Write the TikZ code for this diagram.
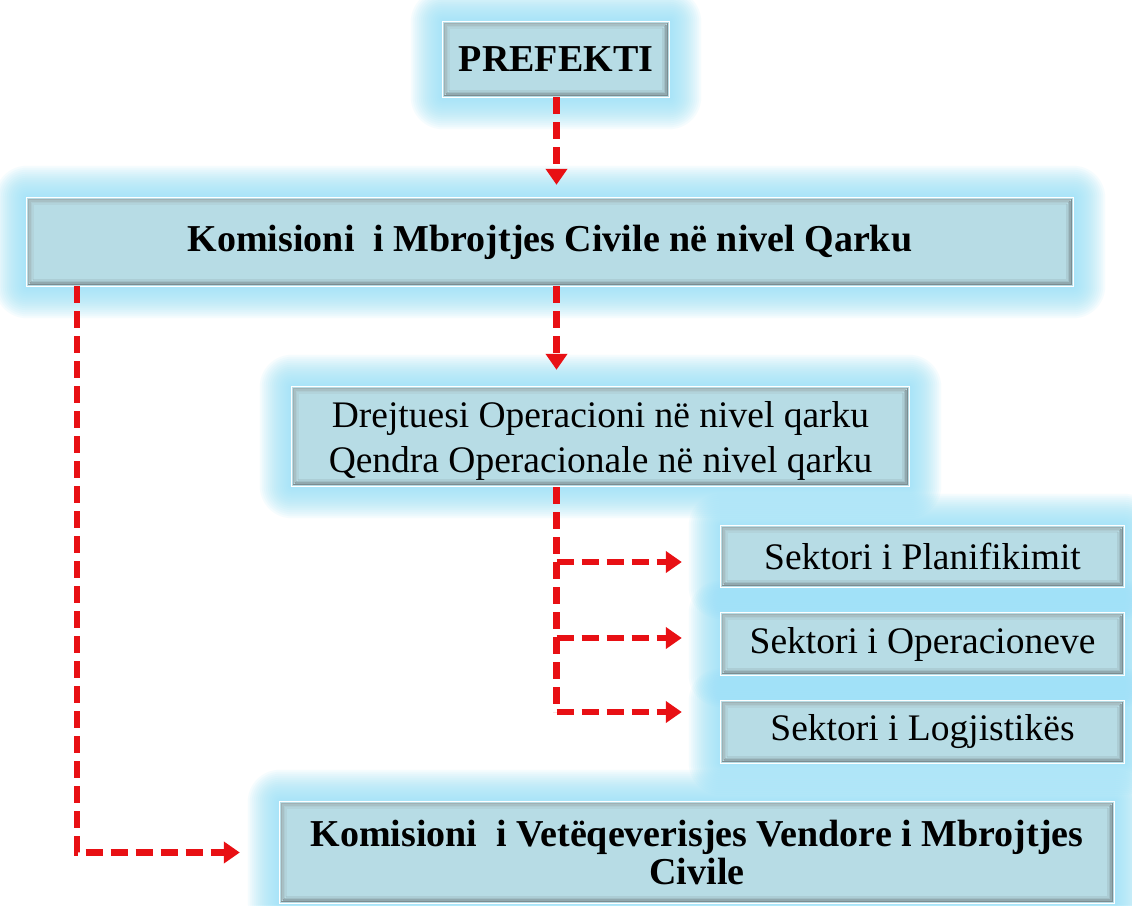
\documentclass[tikz,border=0pt]{standalone}
\usepackage{fontspec}
\setmainfont{Liberation Serif}
\usetikzlibrary{arrows.meta,calc}
\definecolor{glowc}{RGB}{150,225,248}
\definecolor{boxfill}{RGB}{183,220,229}
\definecolor{arrred}{RGB}{232,16,20}
\newcommand{\glowbox}[1]{%
  \foreach \d in {32,30,...,2}{%
    \fill[glowc,opacity=0.085,rounded corners=\d pt]
      ($(#1.south west)+(-\d,\d)$) rectangle ($(#1.north east)+(\d,-\d)$);
  }%
}
\newcommand{\shadebox}[1]{%
  \foreach \d/\o in {1.5/0.55,3/0.35,4.5/0.2,6/0.1}{%
    \draw[black!70,opacity=\o,line width=1.5pt]
      ($(#1.south west)+(\d,-\d)$) -- ($(#1.south east)+(-\d,-\d)$) -- ($(#1.north east)+(-\d,\d)$);
    \draw[black!45,opacity=\o,line width=1.5pt]
      ($(#1.south west)+(\d,-\d)$) -- ($(#1.north west)+(\d,\d)$) -- ($(#1.north east)+(-\d,\d)$);
  }%
  \draw[white,line width=1pt] (#1.south west) rectangle (#1.north east);
}
\tikzset{
  box/.style={fill=boxfill,inner sep=0pt,align=center,font=\fontsize{37.5}{45}\selectfont},
  boldbox/.style={box,font=\fontsize{38}{38}\selectfont\bfseries},
  arr/.style={draw=arrred,line width=6.5pt,dash pattern=on 17pt off 8pt,
    -{Triangle[length=16pt,width=21pt]}},
  lineonly/.style={draw=arrred,line width=6.5pt,dash pattern=on 17pt off 8pt}
}
\begin{document}
\begin{tikzpicture}[x=1pt,y=-1pt]
\useasboundingbox (0,0) rectangle (1132,905);
\fill[white] (0,0) rectangle (1132,905);
\path
 (556,59.5) node[boldbox,minimum width=226pt,minimum height=75pt] (pref) {}
 (550,242) node[boldbox,minimum width=1046pt,minimum height=88pt] (kom) {}
 (600.5,436.5) node[box,minimum width=617pt,minimum height=99pt] (drejt) {}
 (922.5,556.5) node[box,minimum width=403pt,minimum height=61pt] (s1) {}
 (922.5,644) node[box,minimum width=403pt,minimum height=62pt] (s2) {}
 (922.5,732) node[box,minimum width=403pt,minimum height=62pt] (s3) {}
 (697,852.5) node[boldbox,minimum width=834pt,minimum height=101pt] (vet) {};
\glowbox{pref}\glowbox{kom}\glowbox{drejt}\glowbox{s1}\glowbox{s2}\glowbox{s3}\glowbox{vet}
\node[boldbox,minimum width=226pt,minimum height=75pt] (prefT) at (pref) {PREFEKTI};
\node[boldbox,minimum width=1046pt,minimum height=88pt] (komT) at (kom) {Komisioni\ \ i Mbrojtjes Civile në nivel Qarku};
\node[box,minimum width=617pt,minimum height=99pt] (drejtT) at (drejt) {};
\node[font=\fontsize{37.5}{45}\selectfont,align=center,inner sep=0pt] (drejtL) at ($(drejt)+(0,4)$) {Drejtuesi Operacioni në nivel qarku\\Qendra Operacionale në nivel qarku};
\node[box,minimum width=403pt,minimum height=61pt] (s1T) at (s1) {Sektori i Planifikimit};
\node[box,minimum width=403pt,minimum height=62pt] (s2T) at (s2) {Sektori i Operacioneve};
\node[box,minimum width=403pt,minimum height=62pt] (s3T) at (s3) {Sektori i Logjistikës};
\node[boldbox,minimum width=834pt,minimum height=101pt] (vetT) at (vet) {Komisioni\ \ i Vetëqeverisjes Vendore i Mbrojtjes\\Civile};
\shadebox{prefT}\shadebox{komT}\shadebox{drejtT}\shadebox{s1T}\shadebox{s2T}\shadebox{s3T}\shadebox{vetT}
% connectors
\coordinate (p0) at (556.5,97);
\coordinate (k1) at (p0 |- kom.north);
\draw[arr,shorten >=13pt] (p0) -- (k1);
\coordinate (k2) at (p0 |- kom.south);
\coordinate (d1) at (p0 |- drejt.north);
\draw[arr,shorten >=17pt] (k2) -- (d1);
\coordinate (l0) at (77,286);
\coordinate (l1) at (77,852.5);
\draw[arr,shorten >=40pt] (l0) -- (l1) -- (vet.west);
\coordinate (v0) at (556.5,487);
\coordinate (b1) at (556.5,562);
\coordinate (b2) at (556.5,638);
\coordinate (b3) at (556.5,712);
\coordinate (t1) at (s1.west |- b1);
\coordinate (t2) at (s2.west |- b2);
\coordinate (t3) at (s3.west |- b3);
\draw[lineonly] (v0) -- (b3);
\draw[arr,shorten >=39pt] (b1) -- (t1);
\draw[arr,shorten >=39pt] (b2) -- (t2);
\draw[arr,shorten >=39pt] (b3) -- (t3);
\end{tikzpicture}
\end{document}
